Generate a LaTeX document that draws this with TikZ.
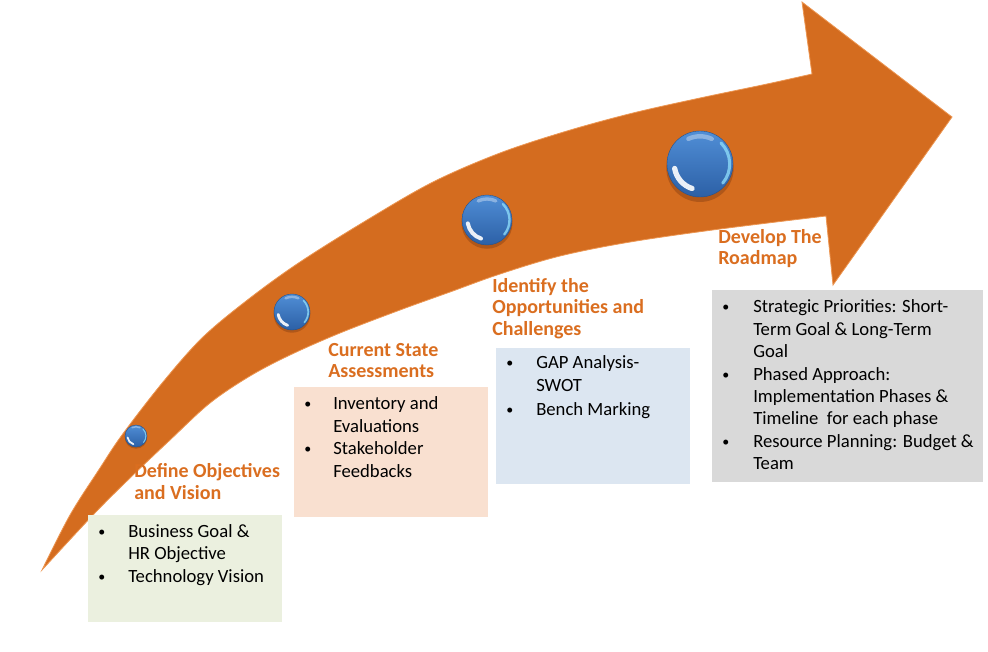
\documentclass[tikz,border=0pt]{standalone}
\usepackage{fontspec}
\setmainfont{Carlito}
\definecolor{arrowfill}{RGB}{212,108,31}
\definecolor{arrowedge}{RGB}{236,150,82}
\definecolor{titlecol}{RGB}{218,110,32}
\definecolor{boxgreen}{RGB}{235,240,223}
\definecolor{boxpeach}{RGB}{249,224,208}
\definecolor{boxblue}{RGB}{220,230,241}
\definecolor{boxgray}{RGB}{217,217,217}
\definecolor{orbtop}{RGB}{80,142,214}
\definecolor{orbbot}{RGB}{44,96,166}
\definecolor{orbshadow}{RGB}{110,50,15}

\tikzset{
  title/.style={anchor=base west, inner sep=0pt, text=titlecol,
    font=\fontsize{15}{16.5}\selectfont\bfseries},
  body/.style={anchor=base west, inner sep=0pt,
    font=\fontsize{14}{16.8}\selectfont},
  dot/.style={anchor=base west, inner sep=0pt,
    font=\fontsize{10.5}{12}\selectfont},
  panel/.style={fill=#1, draw=none, inner sep=0pt, anchor=north west},
  pics/orb/.style={code={
    \fill[orbshadow, opacity=0.35] (0,{-0.13*#1}) circle[radius={1.02*#1}];
    \shade[top color=orbtop, bottom color=orbbot] (0,0) circle[radius=#1];
    \draw[orbbot!85!black, line width=0.3pt] (0,0) circle[radius=#1];
    \draw[white, opacity=0.9, line width={0.12*#1 pt}, line cap=round]
      (190:{0.78*#1}) arc[start angle=190, end angle=252, radius={0.78*#1}];
    \draw[white!55!cyan, opacity=0.8, line width={0.07*#1 pt}, line cap=round]
      (-40:{0.9*#1}) arc[start angle=-40, end angle=45, radius={0.9*#1}];
    \draw[white, opacity=0.35, line width={0.1*#1 pt}, line cap=round]
      (65:{0.84*#1}) arc[start angle=65, end angle=115, radius={0.84*#1}];
  }}
}

\begin{document}
\begin{tikzpicture}[x=0.75pt, y=0.75pt]
\useasboundingbox (0,0) rectangle (988,-651);

% curved block arrow
\fill[arrowfill, draw=arrowedge, line width=0.6pt, line join=miter]
  plot[smooth, tension=0.55] coordinates {
    (42,-570) (70,-515) (100,-468) (122,-435) (163,-382) (203,-337)
    (250,-298) (300,-262) (367,-220) (433,-182) (500,-153) (567,-131)
    (633,-113) (700,-98) (767,-84) (812,-74)}
  -- (802,-2) -- (952,-117) -- (833,-285) --
  plot[smooth, tension=0.55] coordinates {
    (826,-216) (720,-229) (630,-242) (560,-256) (500,-274) (450,-292)
    (400,-310) (340,-333) (290,-355) (250,-376) (210,-403) (170,-440)
    (130,-478) (93,-515) (42,-570)}
  -- cycle;

% milestones on the arrow
\pic at (136,-436) {orb=11};
\pic at (292,-312) {orb=18};
\pic at (487,-220) {orb=25};
\pic at (700,-164) {orb=33};

% step titles
\node[title] (t1a) at (134,-477) {Define Objectives};
\node[title] (t1b) at (134,-499) {and Vision};
\node[title] (t2a) at (328,-356) {Current State};
\node[title] (t2b) at (328,-377) {Assessments};
\node[title] (t3a) at (492,-292) {Identify the};
\node[title] (t3b) at (492,-313) {Opportunities and};
\node[title] (t3c) at (492,-335) {Challenges};
\node[title] (t4a) at (718,-243) {Develop The};
\node[title] (t4b) at (718,-264) {Roadmap};

% detail panels
\node[panel=boxgreen, minimum width=145.5pt, minimum height=80.25pt] (p1) at (88,-515) {};
\node[panel=boxpeach, minimum width=145.5pt, minimum height=97.5pt] (p2) at (294,-387) {};
\node[panel=boxblue, minimum width=145.5pt, minimum height=102pt] (p3) at (496,-348) {};
\node[panel=boxgray, minimum width=203.25pt, minimum height=144pt] (p4) at (712,-290) {};

% panel 1
\node[dot] (b11) at (98,-536) {•};
\node[body] (l11) at (128,-537) {Business Goal \&};
\node[body] (l12) at (128,-559.5) {HR Objective};
\node[dot] (b12) at (98,-581) {•};
\node[body] (l13) at (128,-582) {Technology Vision};

% panel 2
\node[dot] (b21) at (304,-408) {•};
\node[body] (l21) at (333,-409) {Inventory and};
\node[body] (l22) at (333,-432) {Evaluations};
\node[dot] (b22) at (304,-453) {•};
\node[body] (l23) at (333,-454) {Stakeholder};
\node[body] (l24) at (333,-477) {Feedbacks};

% panel 3
\node[dot] (b31) at (506,-367) {•};
\node[body] (l31) at (536,-368) {GAP Analysis-};
\node[body] (l32) at (536,-391) {SWOT};
\node[dot] (b32) at (506,-414) {•};
\node[body] (l33) at (536,-415) {Bench Marking};

% panel 4
\node[dot] (b41) at (722,-311) {•};
\node[body] (l41) at (753,-312) {Strategic Priorities: Short-};
\node[body] (l42) at (753,-335) {Term Goal \& Long-Term};
\node[body] (l43) at (753,-357) {Goal};
\node[dot] (b42) at (722,-379) {•};
\node[body] (l44) at (753,-380) {Phased Approach:};
\node[body] (l45) at (753,-402) {Implementation Phases \&};
\node[body] (l46) at (753,-424) {Timeline\ \ for each phase};
\node[dot] (b43) at (722,-446) {•};
\node[body] (l47) at (753,-447) {Resource Planning: Budget \&};
\node[body] (l48) at (753,-469) {Team};
\end{tikzpicture}
\end{document}
